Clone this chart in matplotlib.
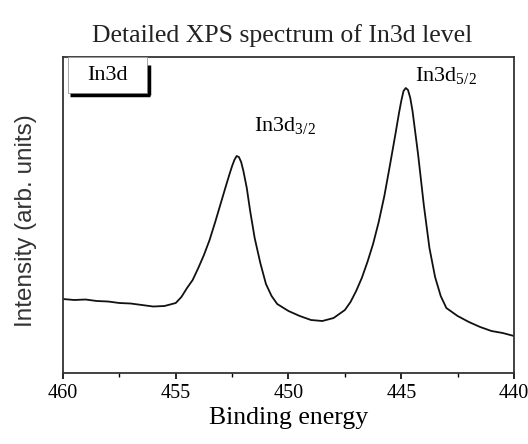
import matplotlib.pyplot as plt
from matplotlib.patches import Rectangle

plt.rcParams['mathtext.fontset'] = 'custom'
plt.rcParams['mathtext.rm'] = 'Liberation Serif'
plt.rcParams['mathtext.it'] = 'Liberation Serif'

# binding energy (eV) and intensity (arb. units)
energy = [460.0, 459.5, 459.0, 458.5, 458.0, 457.5, 457.0, 456.5, 456.0, 455.5,
          455.0, 454.75, 454.5, 454.25, 454.0, 453.75, 453.5, 453.25, 453.0, 452.75,
          452.6, 452.5, 452.4, 452.3, 452.2, 452.1, 452.0, 451.85, 451.7, 451.5,
          451.25, 451.0, 450.75, 450.5,
          450.0, 449.5, 449.0, 448.5, 448.0, 447.5, 447.25, 447.0, 446.75, 446.5,
          446.25, 446.0, 445.75, 445.5, 445.25, 445.1, 445.0, 444.9, 444.8, 444.7,
          444.6, 444.5, 444.25,
          444.0, 443.75, 443.5, 443.25, 443.0, 442.5, 442.0, 441.5, 441.0, 440.5, 440.0]
intensity = [74, 73, 73.5, 72, 71.5, 70, 69.5, 68, 66.5, 67,
             70, 76, 85, 93, 105, 118, 133, 151, 170, 189,
             200, 207, 213, 217, 216, 211, 202, 185, 162, 135,
             110, 89, 77, 69,
             62, 57, 53, 52, 55, 63, 71, 82, 95, 111,
             129, 151, 177, 208, 240, 260, 272, 282, 285, 283,
             275, 262, 218,
             168, 125, 96, 77, 65, 57, 51, 46, 42, 40, 37]

xticks = [460, 455, 450, 445, 440]
peak_labels = [(450.15, 248, 'In3d$_{3/2}$'), (443.0, 298, 'In3d$_{5/2}$')]

fig = plt.figure(figsize=(5.28, 4.44), dpi=100)
ax = fig.add_axes([0.1193, 0.1599, 0.8542, 0.7117])

ax.plot(energy, intensity, color='#111111', lw=1.3)
ax.set_xlim(460, 440)
ax.set_ylim(0, 316)

ax.set_xticks(xticks)
ax.set_xticks([457.5, 452.5, 447.5, 442.5], minor=True)
ax.set_xticklabels([str(t) for t in xticks], family='Liberation Serif', fontsize=14.5)
ax.tick_params(axis='x', which='major', direction='out', length=4, width=1.2, pad=4)
ax.tick_params(axis='x', which='minor', direction='out', length=3, width=1)
ax.set_yticks([])
for s in ax.spines.values():
    s.set_linewidth(1.3)
    s.set_color('#333333')

ax.set_xlabel('Binding energy', family='Liberation Serif', fontsize=18.5, labelpad=3)
fig.text(26 / 528, 1 - 221 / 444, 'Intensity (arb. units)', family='Liberation Sans',
         fontsize=17.5, color='#333333', rotation=90, ha='center', va='center')
ax.set_title('Detailed XPS spectrum of In3d level', family='Liberation Serif',
             fontsize=18.5, pad=11, color='#222222', x=0.486)

for xe, yi, txt in peak_labels:
    ax.text(xe, yi, txt, family='Liberation Serif', fontsize=16, ha='center', va='center')

# label box with shadow in the top-left corner
ax.add_patch(Rectangle((0.011, 0.885), 0.175, 0.115, transform=ax.transAxes,
                       facecolor='white', edgecolor='#999999', lw=0.6, zorder=3))
ax.plot([0.016, 0.193], [0.88, 0.88], transform=ax.transAxes, color='black', lw=2.5,
        solid_capstyle='butt', zorder=4)
ax.plot([0.19, 0.19], [0.88, 0.975], transform=ax.transAxes, color='black', lw=2.5,
        solid_capstyle='butt', zorder=4)
ax.text(0.098, 0.943, 'In3d', transform=ax.transAxes, family='Liberation Serif',
        fontsize=16, ha='center', va='center', zorder=5)

fig.savefig('out.png', dpi=100)
